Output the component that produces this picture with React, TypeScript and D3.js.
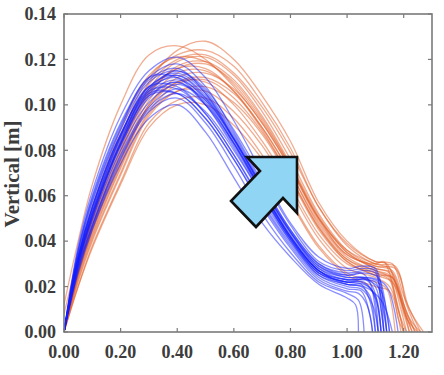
import React, { useEffect, useRef } from "react";
import * as d3 from "d3";

// x positions shared by the main part of every trajectory
const xGrid = [0, 0.05, 0.1, 0.2, 0.3, 0.4, 0.5, 0.6, 0.7, 0.8, 0.9, 1.0];

// blue trajectories: heights at xGrid, then a tail of [x, y] points
const blueRuns = [
  [0, .031, .052, .083, .104, .110, .100, .082, .061, .041, .026, .022],
  [0, .036, .060, .092, .112, .118, .108, .088, .066, .045, .030, .026],
  [0, .027, .046, .076, .097, .103, .092, .073, .052, .035, .022, .017],
  [0, .033, .055, .087, .108, .114, .105, .086, .064, .044, .029, .024],
  [0, .030, .050, .082, .104, .105, .094, .076, .056, .038, .024, .019],
  [0, .038, .062, .095, .115, .121, .112, .093, .070, .048, .033, .028],
  [0, .032, .053, .085, .106, .113, .104, .085, .063, .042, .027, .022],
  [0, .026, .045, .074, .094, .100, .088, .068, .048, .033, .021, .015],
  [0, .034, .057, .089, .110, .115, .106, .087, .065, .045, .030, .025],
  [0, .031, .052, .084, .106, .107, .096, .078, .058, .040, .025, .020],
  [0, .033, .055, .087, .107, .112, .102, .083, .061, .041, .027, .023],
  [0, .030, .051, .083, .105, .111, .103, .085, .064, .044, .029, .025],
  [0, .028, .047, .078, .099, .107, .100, .083, .062, .042, .027, .021],
  [0, .032, .054, .086, .107, .115, .107, .089, .068, .047, .031, .027],
  [0, .031, .051, .083, .105, .105, .094, .076, .055, .037, .023, .018],
  [0, .036, .059, .091, .111, .116, .105, .085, .063, .043, .028, .024],
  [0, .029, .049, .080, .101, .109, .102, .085, .064, .044, .028, .023],
  [0, .032, .053, .086, .108, .108, .096, .078, .057, .039, .025, .021],
  [0, .030, .051, .082, .103, .110, .101, .083, .062, .042, .027, .022],
  [0, .035, .058, .090, .112, .112, .100, .081, .060, .040, .026, .022],
  [0, .028, .047, .077, .098, .105, .097, .080, .060, .041, .026, .021],
  [0, .033, .055, .087, .108, .113, .103, .084, .062, .042, .027, .023],
];
const blueTails = [
  [[1.05, .021], [1.08, .014], [1.1, 0]],
  [[1.06, .027], [1.1, .026], [1.12, .01], [1.13, 0]],
  [[1.04, .014], [1.06, 0]],
  [[1.05, .024], [1.09, .02], [1.12, 0]],
  [[1.05, .018], [1.08, .008], [1.09, 0]],
  [[1.05, .029], [1.1, .028], [1.13, .012], [1.14, 0]],
  [[1.06, .022], [1.1, .015], [1.12, 0]],
  [[1.03, .012], [1.04, 0]],
  [[1.06, .026], [1.11, .024], [1.14, .008], [1.15, 0]],
  [[1.05, .019], [1.09, .012], [1.11, 0]],
  [[1.07, .023], [1.12, .018], [1.15, 0]],
  [[1.05, .026], [1.08, .022], [1.1, .01], [1.11, 0]],
  [[1.06, .020], [1.12, .014], [1.16, 0]],
  [[1.06, .028], [1.1, .027], [1.12, .015], [1.13, 0]],
  [[1.04, .017], [1.07, .012], [1.09, 0]],
  [[1.06, .024], [1.1, .02], [1.13, 0]],
  [[1.05, .023], [1.1, .022], [1.13, .008], [1.14, 0]],
  [[1.05, .02], [1.08, .016], [1.1, 0]],
  [[1.08, .024], [1.14, .02], [1.18, 0]],
  [[1.05, .022], [1.09, .018], [1.11, 0]],
  [[1.06, .021], [1.1, .016], [1.12, 0]],
  [[1.06, .024], [1.11, .022], [1.13, .01], [1.14, 0]],
];

// orange trajectories
const orangeRuns = [
  [.012, .040, .065, .100, .122, .126, .120, .108, .092, .072, .050, .036],
  [0, .030, .050, .083, .110, .124, .128, .120, .104, .084, .057, .040],
  [0, .026, .045, .076, .102, .114, .115, .106, .090, .070, .048, .033],
  [0, .024, .042, .072, .097, .109, .111, .103, .088, .068, .046, .031],
  [0, .030, .050, .084, .109, .120, .122, .114, .099, .079, .055, .038],
  [0, .020, .038, .066, .092, .102, .103, .094, .078, .058, .038, .026],
  [0, .027, .046, .078, .104, .117, .119, .111, .095, .074, .051, .035],
  [0, .029, .049, .081, .106, .116, .116, .106, .089, .068, .046, .032],
  [0, .020, .037, .065, .090, .100, .100, .091, .076, .057, .037, .025],
  [0, .031, .052, .086, .112, .122, .124, .117, .101, .081, .055, .039],
  [0, .025, .044, .074, .100, .112, .114, .107, .092, .072, .049, .034],
  [0, .023, .041, .070, .096, .106, .106, .097, .082, .062, .041, .028],
  [0, .029, .048, .080, .107, .119, .121, .113, .097, .076, .052, .036],
  [0, .026, .045, .075, .100, .110, .110, .100, .084, .064, .043, .030],
  [.008, .033, .055, .089, .113, .121, .119, .109, .093, .073, .050, .035],
  [0, .022, .040, .069, .095, .106, .108, .101, .087, .067, .045, .031],
  [0, .028, .047, .079, .105, .116, .118, .110, .094, .073, .050, .034],
  [0, .025, .043, .073, .099, .110, .112, .105, .090, .070, .047, .032],
];
const orangeTails = [
  [[1.1, .030], [1.15, .028], [1.19, .014], [1.23, 0]],
  [[1.1, .031], [1.16, .030], [1.2, .016], [1.26, 0]],
  [[1.1, .027], [1.15, .025], [1.19, .01], [1.21, 0]],
  [[1.1, .025], [1.16, .022], [1.2, .008], [1.22, 0]],
  [[1.1, .03], [1.17, .029], [1.21, .012], [1.25, 0]],
  [[1.1, .022], [1.14, .019], [1.17, 0]],
  [[1.1, .028], [1.16, .026], [1.2, .01], [1.23, 0]],
  [[1.1, .027], [1.15, .024], [1.18, .01], [1.2, 0]],
  [[1.1, .02], [1.15, .018], [1.19, 0]],
  [[1.1, .031], [1.14, .03], [1.18, .018], [1.24, 0]],
  [[1.1, .029], [1.16, .027], [1.21, .008], [1.24, 0]],
  [[1.1, .024], [1.15, .02], [1.19, .006], [1.21, 0]],
  [[1.1, .029], [1.17, .028], [1.22, .01], [1.27, 0]],
  [[1.1, .026], [1.15, .023], [1.18, .006], [1.2, 0]],
  [[1.1, .028], [1.15, .026], [1.2, .01], [1.22, 0]],
  [[1.1, .025], [1.16, .024], [1.21, .006], [1.25, 0]],
  [[1.1, .03], [1.13, .031], [1.17, .016], [1.2, 0]],
  [[1.1, .026], [1.16, .024], [1.22, .006], [1.26, 0]],
];

const xTicks = [0, 0.2, 0.4, 0.6, 0.8, 1.0, 1.2];
const yTicks = [0, 0.02, 0.04, 0.06, 0.08, 0.1, 0.12, 0.14];

function App() {
  const ref = useRef(null);

  useEffect(() => {
    const margin = { top: 14, right: 12, bottom: 43, left: 64 },
      W = 444, H = 375,
      w = W - margin.left - margin.right,
      h = H - margin.top - margin.bottom;

    const svg = d3.select(ref.current);
    svg.selectAll("*").remove();

    const x = d3.scaleLinear().domain([0, 1.3]).range([0, w]);
    const y = d3.scaleLinear().domain([0, 0.14]).range([h, 0]);

    const g = svg.append("g").attr("transform", `translate(${margin.left},${margin.top})`);

    g.append("clipPath").attr("id", "plotclip")
      .append("rect").attr("width", w).attr("height", h);

    const line = d3.line().x(d => x(d[0])).y(d => y(d[1])).curve(d3.curveCatmullRom.alpha(0.5));
    const build = (runs, tails) => runs.map((r, i) => xGrid.map((xv, j) => [xv, r[j]]).concat(tails[i]));

    const lines = g.append("g").attr("clip-path", "url(#plotclip)");
    lines.selectAll(".orange").data(build(orangeRuns, orangeTails)).join("path")
      .attr("class", "orange")
      .attr("d", line).attr("fill", "none")
      .attr("stroke", "rgb(226,92,36)").attr("stroke-opacity", 0.5).attr("stroke-width", 1.3);
    lines.selectAll(".blue").data(build(blueRuns, blueTails)).join("path")
      .attr("class", "blue")
      .attr("d", line).attr("fill", "none")
      .attr("stroke", "rgb(20,30,255)").attr("stroke-opacity", 0.5).attr("stroke-width", 1.3);

    // box frame and inward ticks
    const frame = "#7a7a7a";
    g.append("rect").attr("width", w).attr("height", h)
      .attr("fill", "none").attr("stroke", frame).attr("stroke-width", 1.6);
    g.selectAll(".xt").data(xTicks).join("line").attr("class", "xt")
      .attr("x1", d => x(d)).attr("x2", d => x(d)).attr("y1", h).attr("y2", h - 4)
      .attr("stroke", frame).attr("stroke-width", 1.2);
    g.selectAll(".xtt").data(xTicks).join("line").attr("class", "xtt")
      .attr("x1", d => x(d)).attr("x2", d => x(d)).attr("y1", 0).attr("y2", 4)
      .attr("stroke", frame).attr("stroke-width", 1.2);
    g.selectAll(".yt").data(yTicks).join("line").attr("class", "yt")
      .attr("x1", 0).attr("x2", 4).attr("y1", d => y(d)).attr("y2", d => y(d))
      .attr("stroke", frame).attr("stroke-width", 1.2);
    g.selectAll(".ytr").data(yTicks).join("line").attr("class", "ytr")
      .attr("x1", w).attr("x2", w - 4).attr("y1", d => y(d)).attr("y2", d => y(d))
      .attr("stroke", frame).attr("stroke-width", 1.2);

    const font = "'Liberation Serif', 'Times New Roman', serif";
    g.selectAll(".xl").data(xTicks).join("text").attr("class", "xl")
      .attr("x", d => x(d)).attr("y", h + 26)
      .attr("text-anchor", "middle")
      .attr("font-family", font).attr("font-size", 18).attr("font-weight", "bold").attr("fill", "#3c3c3c")
      .text(d => d.toFixed(2));
    g.selectAll(".yl").data(yTicks).join("text").attr("class", "yl")
      .attr("x", -8).attr("y", d => y(d)).attr("dy", "0.35em")
      .attr("text-anchor", "end")
      .attr("font-family", font).attr("font-size", 18).attr("font-weight", "bold").attr("fill", "#3c3c3c")
      .text(d => d.toFixed(2));

    svg.append("text")
      .attr("transform", "translate(19,174) rotate(-90)")
      .attr("text-anchor", "middle")
      .attr("font-family", font).attr("font-size", 21).attr("font-weight", "bold").attr("fill", "#3c3c3c")
      .text("Vertical [m]");

    // annotation arrow
    svg.append("path")
      .attr("d", "M297,157 L247,157 L260,171 L231,201 L256,227 L283,198 L297,213 Z")
      .attr("fill", "#90d5f4").attr("stroke", "#111").attr("stroke-width", 2.6)
      .attr("stroke-linejoin", "miter");
  }, []);

  return (
    <svg ref={ref} width={444} height={375} style={{ position: "absolute", left: 0, top: 0, background: "#fff" }} />
  );
}

export default App;
